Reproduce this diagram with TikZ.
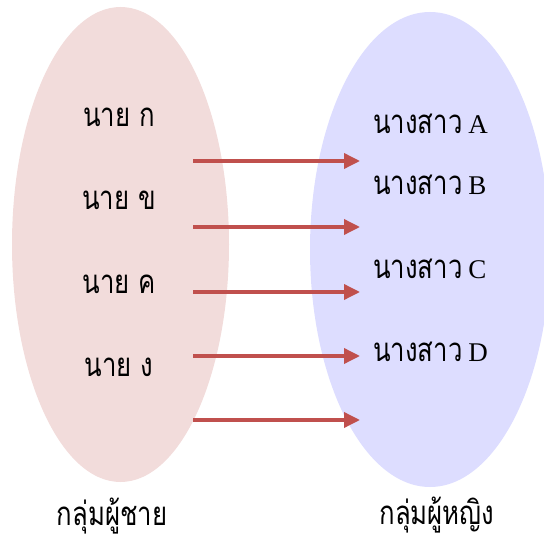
\documentclass[tikz,border=0pt]{standalone}
\usepackage{graphicx}
\usepackage{fontspec}
\newfontfamily\thaifont[Script=Thai]{Loma}
\newfontfamily\latinfont{Liberation Serif}
\usetikzlibrary{arrows.meta}
\definecolor{menfill}{HTML}{F2DCDB}
\definecolor{womenfill}{HTML}{DDDDFF}
\definecolor{arrowred}{HTML}{C0504D}
% narrow, tall Thai lettering
\newcommand{\thaitext}[1]{\scalebox{0.78}[1]{\thaifont\fontsize{33}{36}\selectfont #1}}
\newcommand{\latintext}[1]{{\latinfont\fontsize{27}{30}\selectfont #1}}
\tikzset{
  x=1pt, y=-1pt,
  label/.style={inner sep=0pt},
  link/.style={draw=arrowred, line width=3.5pt, -{Triangle[length=16pt,width=15pt]}}
}
\begin{document}
\begin{tikzpicture}
\useasboundingbox (0,0) rectangle (544,540);
\begin{scope}
\clip (0,0) rectangle (544,540);
\fill[menfill] (120.5,244.5) ellipse [x radius=108.5, y radius=237.5];
\fill[womenfill] (430,249.5) ellipse [x radius=120, y radius=237.5];
\end{scope}
% men
\node[label] (m1) at (119,117) {\thaitext{นาย ก}};
\node[label] (m2) at (119,200) {\thaitext{นาย ข}};
\node[label] (m3) at (119,284) {\thaitext{นาย ค}};
\node[label] (m4) at (119,367) {\thaitext{นาย ง}};
% women
\node[label, anchor=west] (w1) at (373,124) {\thaitext{นางสาว}\hspace{6pt}\latintext{A}};
\node[label, anchor=west] (w2) at (373,185) {\thaitext{นางสาว}\hspace{6pt}\latintext{B}};
\node[label, anchor=west] (w3) at (373,269) {\thaitext{นางสาว}\hspace{6pt}\latintext{C}};
\node[label, anchor=west] (w4) at (373,352) {\thaitext{นางสาว}\hspace{6pt}\latintext{D}};
% group titles
\node[label] (gm) at (112,516) {\thaitext{กลุ่มผู้ชาย}};
\node[label] (gw) at (437,515) {\thaitext{กลุ่มผู้หญิง}};
% arrows
\foreach \i/\y in {1/161,2/227,3/292,4/356,5/420} {
  \coordinate (s\i) at (193,\y);
  \coordinate (t\i) at (360,\y);
  \draw[link] (s\i) -- (t\i);
}
\end{tikzpicture}
\end{document}
